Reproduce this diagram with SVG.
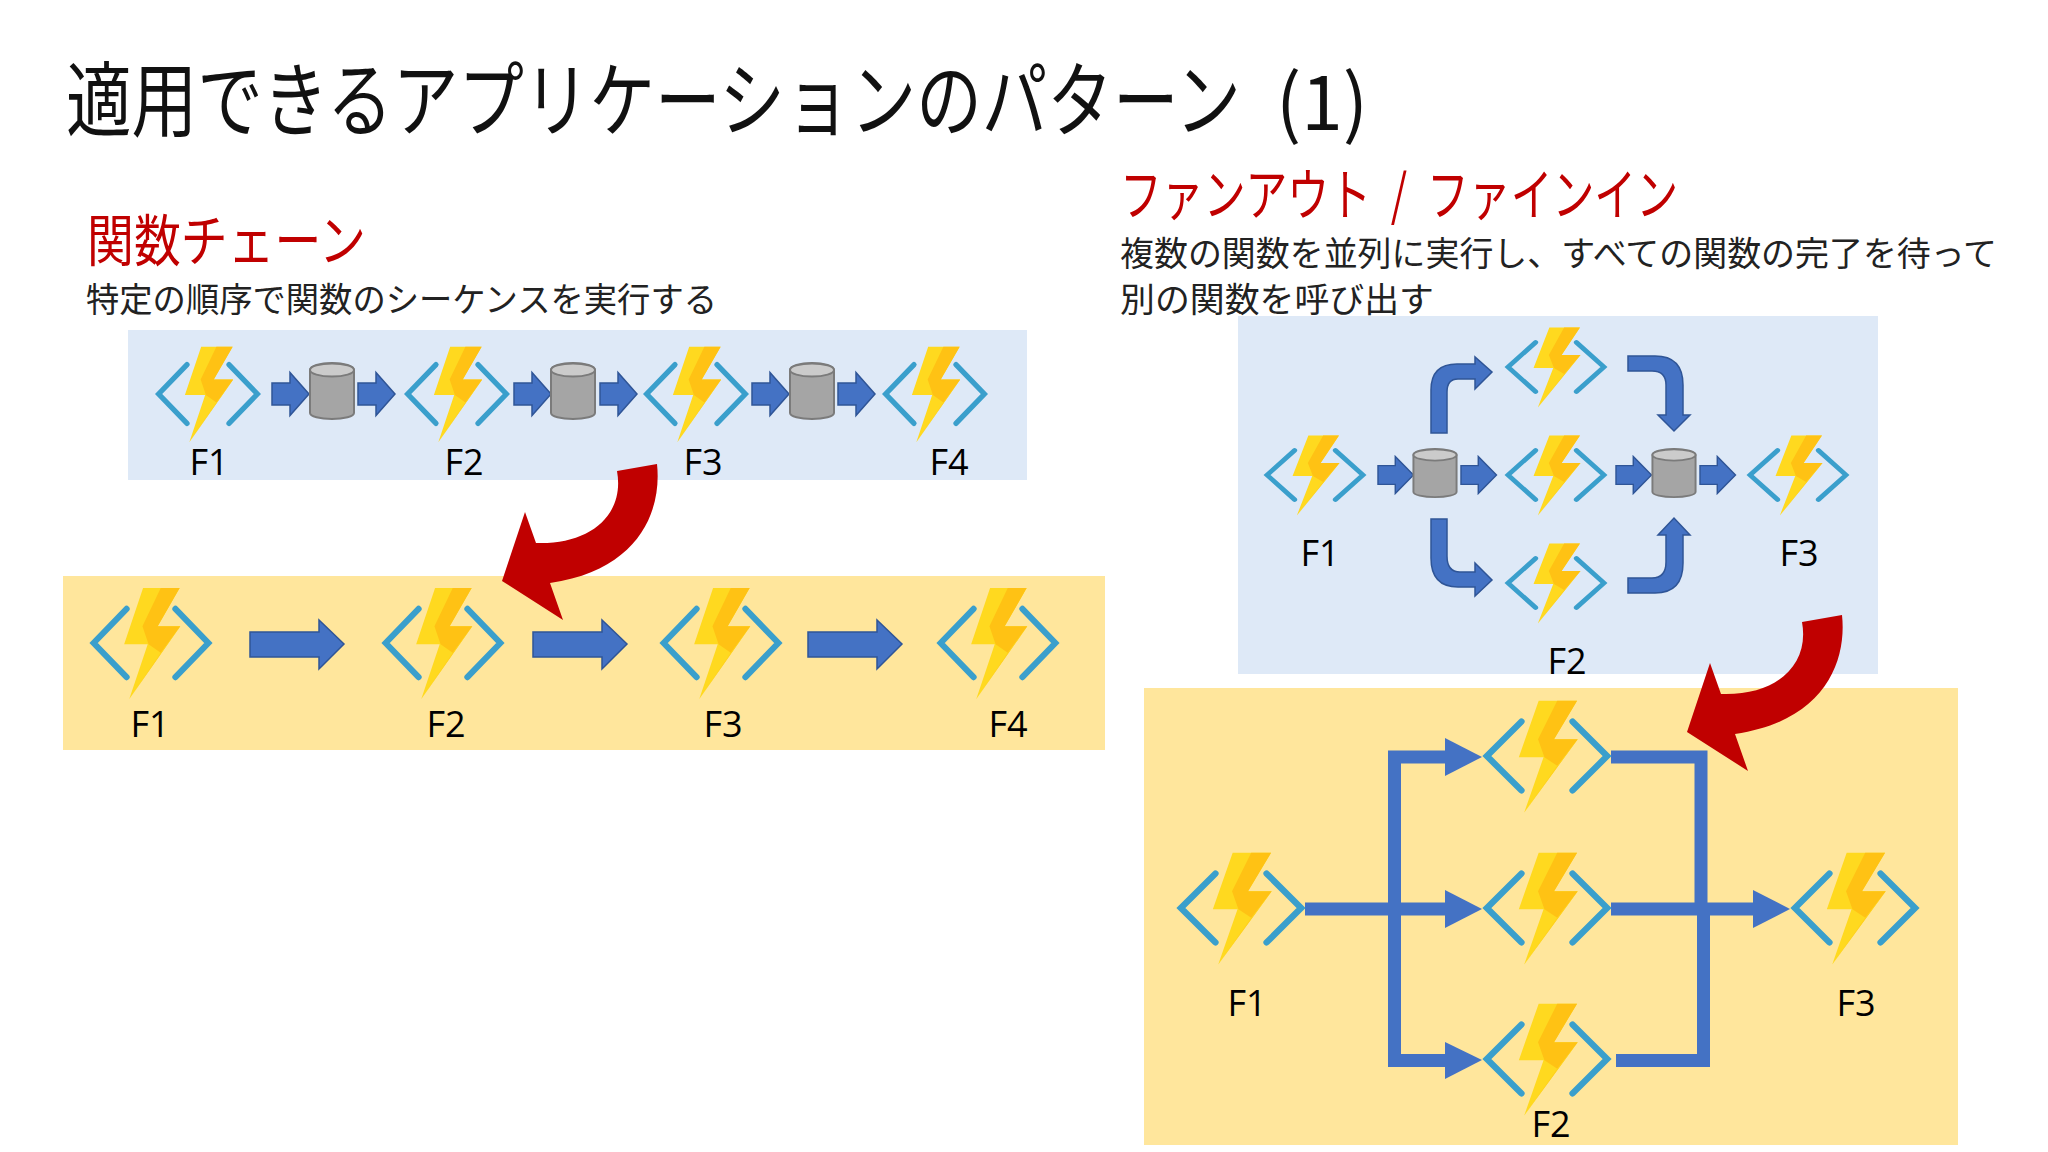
<svg xmlns="http://www.w3.org/2000/svg" width="2048" height="1152" viewBox="0 0 2048 1152">
<style>
text{font-family:"Noto Sans CJK JP","Noto Sans",sans-serif;fill:#111}
.f{font-family:"Open Sans","Noto Sans",sans-serif;font-size:36px;text-anchor:middle;fill:#000}
.h{fill:#C00000;font-size:56px}
.b{font-size:34px;fill:#222}
.blue{fill:#DEE9F7}.yel{fill:#FFE69C}
.ba{fill:#4472C4;stroke:#2F5597;stroke-width:1.5}
.ln{fill:none;stroke:#4472C4;stroke-width:13}
.hd{fill:#4472C4}
.red{fill:#C00000}
</style>
<defs>
<g id="fn">
<path d="M-20-28-47 0-20 28M20-28 47 0 20 28" fill="none" stroke="#3A9FCC" stroke-width="5" stroke-linecap="round" stroke-linejoin="miter"/>
<path d="M-6.500-45 23.500-45 5.500-13.700 24-13.700-17.800 46-2.700 1-22 1Z" fill="#FFD91F"/>
<path d="M8-45 23.500-45 5.500-13.700 24-13.700 8 8-2 1-7-13.700Z" fill="#FFC214"/>
<path d="M24-13.700-17.800 46 8 8Z" fill="#FFCE1C"/>
</g>
<g id="cy">
<path d="M-22-21A22 7 0 0 1 22-21V22A22 6 0 0 1-22 22Z" fill="#A5A5A5" stroke="#7B7B7B" stroke-width="2"/>
<ellipse cx="0" cy="-21" rx="22" ry="6.500" fill="#CBCBCB" stroke="#7B7B7B" stroke-width="2"/>
</g>
<polygon id="ar" class="ba" points="0,-11 18,-11 18,-21.500 37,0 18,21.500 18,11 0,11"/>
<path id="rd" class="red" d="M617 471 657 464C662 510 640 570 550 583L563 620 502 581 525 512 536 543C590 545 625 515 617 471Z"/>
</defs>
<rect width="2048" height="1152" fill="#FFFFFF"/>
<text id="title" transform="translate(66 130) scale(.8 1)" font-size="82">適用できるアプリケーションのパターン</text>
<text id="title-n" x="1276" y="130" font-size="76" textLength="92" lengthAdjust="spacingAndGlyphs">(1)</text>
<text id="h1" class="h" x="87" y="261" textLength="279" lengthAdjust="spacingAndGlyphs">関数チェーン</text>
<text id="b1" class="b" x="86" y="312" textLength="631" lengthAdjust="spacingAndGlyphs">特定の順序で関数のシーケンスを実行する</text>
<text id="h2" class="h" x="1120" y="215" textLength="558" lengthAdjust="spacingAndGlyphs" word-spacing="14">ファンアウト / ファインイン</text>
<text id="b2" class="b" x="1120" y="266" textLength="877" lengthAdjust="spacingAndGlyphs">複数の関数を並列に実行し、すべての関数の完了を待って</text>
<text id="b3" class="b" x="1120" y="312" textLength="314" lengthAdjust="spacingAndGlyphs">別の関数を呼び出す</text>
<g id="panels">
<rect class="blue" x="128" y="330" width="899" height="150"/>
<rect class="yel" x="63" y="576" width="1042" height="174"/>
<rect class="blue" x="1238" y="316" width="640" height="358"/>
<rect class="yel" x="1144" y="688" width="814" height="457"/>
</g>
<g id="connectors">
<use href="#ar" transform="translate(272 394)"/>
<use href="#ar" transform="translate(358 394)"/>
<use href="#ar" transform="translate(514 394)"/>
<use href="#ar" transform="translate(600 394)"/>
<use href="#ar" transform="translate(752 394)"/>
<use href="#ar" transform="translate(838 394)"/>
<polygon class="ba" points="250,632 319,632 319,620 344,644 319,669 319,657 250,657"/>
<polygon class="ba" points="533,632 602,632 602,620 627,644 602,669 602,657 533,657"/>
<polygon class="ba" points="808,632 877,632 877,620 902,644 877,669 877,657 808,657"/>
<use href="#ar" transform="translate(1378 475) scale(.96 .86)"/>
<use href="#ar" transform="translate(1461 475) scale(.96 .86)"/>
<use href="#ar" transform="translate(1616 475) scale(.96 .86)"/>
<use href="#ar" transform="translate(1700 475) scale(.96 .86)"/>
<path class="ba" d="M1431 433V390Q1431 364 1457 364H1475V357L1492 372 1475 389V379H1458Q1447 379 1447 392V433Z"/>
<path class="ba" d="M1628 356H1655Q1683 356 1683 385V415H1690L1674 431 1658 415H1666V385Q1666 371 1652 371H1628Z"/>
<path class="ba" d="M1431 519H1447V556Q1447 572 1460 572H1475V563L1492 580 1475 596V587H1458Q1431 587 1431 558Z"/>
<path class="ba" d="M1628 578H1652Q1666 578 1666 562V535H1658L1674 518 1690 535H1683V563Q1683 593 1655 593H1628Z"/>
<path class="ln" d="M1305 909H1450M1450 757H1394.500V1060.500H1450"/>
<polygon class="hd" points="1445,738 1482,757 1445,776"/>
<polygon class="hd" points="1445,890 1482,909 1445,928"/>
<polygon class="hd" points="1445,1042 1482,1060 1445,1079"/>
<path class="ln" d="M1611 757H1701V909M1611 909H1758M1616 1060.500H1703.500V909"/>
<polygon class="hd" points="1753,890 1790,909 1753,928"/>
<use href="#rd"/>
<use href="#rd" transform="translate(1185 151)"/>
</g>
<g id="c1-f1"><use href="#fn" transform="translate(208 394) scale(1.05)"/><text class="f" x="209" y="475">F1</text></g>
<g id="c1-db1"><use href="#cy" transform="translate(332 391)"/></g>
<g id="c1-f2"><use href="#fn" transform="translate(457 394) scale(1.05)"/><text class="f" x="464" y="475">F2</text></g>
<g id="c1-db2"><use href="#cy" transform="translate(573 391)"/></g>
<g id="c1-f3"><use href="#fn" transform="translate(696 394) scale(1.05)"/><text class="f" x="703" y="475">F3</text></g>
<g id="c1-db3"><use href="#cy" transform="translate(812 391)"/></g>
<g id="c1-f4"><use href="#fn" transform="translate(935 394) scale(1.05)"/><text class="f" x="949" y="475">F4</text></g>
<g id="c2-f1"><use href="#fn" transform="translate(151 643) scale(1.22)"/><text class="f" x="150" y="737">F1</text></g>
<g id="c2-f2"><use href="#fn" transform="translate(443 643) scale(1.22)"/><text class="f" x="446" y="737">F2</text></g>
<g id="c2-f3"><use href="#fn" transform="translate(721 643) scale(1.22)"/><text class="f" x="723" y="737">F3</text></g>
<g id="c2-f4"><use href="#fn" transform="translate(998 643) scale(1.22)"/><text class="f" x="1008" y="737">F4</text></g>
<g id="c3-f1"><use href="#fn" transform="translate(1315 475) scale(1.02 .88)"/><text class="f" x="1320" y="566">F1</text></g>
<g id="c3-db1"><use href="#cy" transform="translate(1435 473) scale(.98 .86)"/></g>
<g id="c3-f2a"><use href="#fn" transform="translate(1556 367) scale(1.02 .88)"/></g>
<g id="c3-f2b"><use href="#fn" transform="translate(1556 475) scale(1.02 .88)"/></g>
<g id="c3-f2c"><use href="#fn" transform="translate(1556 583) scale(1.02 .88)"/><text class="f" x="1567" y="674">F2</text></g>
<g id="c3-db2"><use href="#cy" transform="translate(1674 473) scale(.98 .86)"/></g>
<g id="c3-f3"><use href="#fn" transform="translate(1798 475) scale(1.02 .88)"/><text class="f" x="1799" y="566">F3</text></g>
<g id="c4-f1"><use href="#fn" transform="translate(1241 908) scale(1.28 1.23)"/><text class="f" x="1247" y="1016">F1</text></g>
<g id="c4-f2a"><use href="#fn" transform="translate(1547 756) scale(1.28 1.23)"/></g>
<g id="c4-f2b"><use href="#fn" transform="translate(1547 908) scale(1.28 1.23)"/></g>
<g id="c4-f2c"><use href="#fn" transform="translate(1547 1059) scale(1.28 1.23)"/><text class="f" x="1551" y="1137">F2</text></g>
<g id="c4-f3"><use href="#fn" transform="translate(1855 908) scale(1.28 1.23)"/><text class="f" x="1856" y="1016">F3</text></g>
</svg>
